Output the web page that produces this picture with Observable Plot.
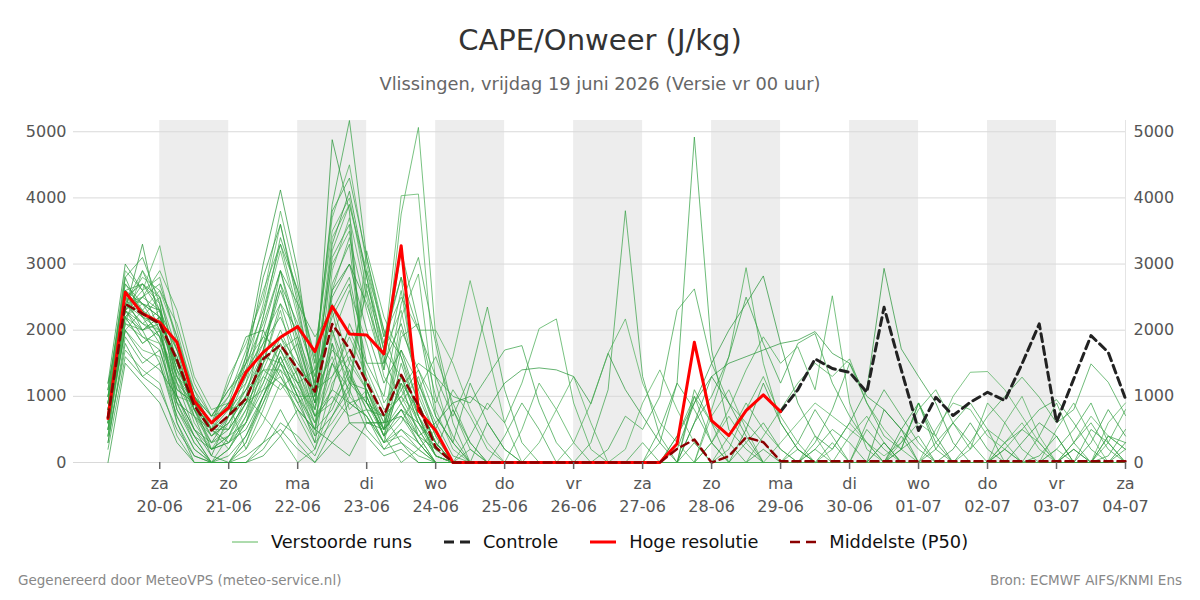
<!DOCTYPE html>
<html lang="nl">
<head>
<meta charset="utf-8">
<title>CAPE/Onweer (J/kg)</title>
<script src="https://cdn.jsdelivr.net/npm/d3@7"></script>
<script src="https://cdn.jsdelivr.net/npm/@observablehq/plot@0.6"></script>
<style>
  body { margin: 0; width: 1200px; height: 600px; position: relative; overflow: hidden;
         background: #fff; font-family: "DejaVu Sans", sans-serif; }
  #title { position: absolute; top: 23px; left: 0; width: 1200px; text-align: center;
           font-size: 29px; color: #333; }
  #subtitle { position: absolute; top: 73px; left: 0; width: 1200px; text-align: center;
              font-size: 17.8px; color: #666; }
  #chart { position: absolute; top: 105px; left: 0; }
  #legend { position: absolute; top: 531px; left: 0; width: 1200px; display: flex;
            justify-content: center; gap: 32px; font-size: 17.8px; color: #111; }
  #legend .item { display: flex; align-items: center; gap: 13px; }
  .footer { position: absolute; top: 572px; font-size: 13.5px; color: #888; }
  #foot-left { left: 18px; }
  #foot-right { right: 18px; }
</style>
</head>
<body>
<div id="title">CAPE/Onweer (J/kg)</div>
<div id="subtitle">Vlissingen, vrijdag 19 juni 2026 (Versie vr 00 uur)</div>
<div id="chart"></div>
<div id="legend"></div>
<div class="footer" id="foot-left">Gegenereerd door MeteoVPS (meteo-service.nl)</div>
<div class="footer" id="foot-right">Bron: ECMWF AIFS/KNMI Ens</div>
<script>
// Forecast steps: every 6 hours from 19-06 06 UTC up to 04-07 00 UTC (60 steps)
const firstStep = Date.UTC(2026, 5, 19, 6);
const stepHours = 6;

// Deterministic high-resolution run (first 10 days)
const hres = [
  665, 2573, 2250, 2120, 1817, 935, 600, 835, 1364, 1666,
  1893, 2054, 1677, 2361, 1944, 1929, 1642, 3278, 785, 483,
  0, 0, 0, 0, 0, 0, 0, 0, 0, 0,
  0, 0, 0, 282, 1817, 634, 408, 785, 1022, 770
];

// Control run (shown from day 10 onward)
const control = [
  null, null, null, null, null, null, null, null, null, null,
  null, null, null, null, null, null, null, null, null, null,
  null, null, null, null, null, null, null, null, null, null,
  null, null, null, null, null, null, null, null, null, 770,
  1100, 1566, 1420, 1364, 1062, 2346, 1400, 483, 986, 710,
  911, 1062, 937, 1491, 2095, 609, 1264, 1918, 1666, 962
];

// Ensemble median (P50)
const median = [
  680, 2397, 2250, 2100, 1550, 860, 483, 710, 962, 1566,
  1778, 1415, 1072, 2095, 1717, 1213, 710, 1324, 861, 231,
  0, 0, 0, 0, 0, 0, 0, 0, 0, 0,
  0, 0, 0, 207, 347, 0, 95, 382, 307, 20,
  20, 20, 20, 20, 20, 20, 20, 20, 20, 20,
  20, 20, 20, 20, 20, 20, 20, 20, 20, 20
];

// Perturbed ensemble members
const runs = [
  [900,2400,2900,2300,1100,900,500,700,1300,2200, 3400,2600,1500,3900,5170,3100,1900,2800,900,300,
   0,0,600,200,0,0,0,0,0,0, 0,0,0,0,300,0,0,0,0,0, 0,200,500,300,0,0,0,0,200,600, 300,0,0,0,100,400,0,0,0,200],
  [700,2600,2200,2500,1500,800,200,400,900,1600, 2900,1800,900,2600,3400,2300,1400,3757,5065,1900,
   800,200,0,0,0,0,0,0,0,0, 0,0,0,0,0,0,0,0,0,0, 200,0,0,400,700,300,0,0,0,0, 0,0,200,500,300,0,0,0,0,0],
  [500,2300,3300,2100,900,700,100,700,1600,3000, 4120,2900,1100,4880,3800,900,500,1200,400,0,
   0,0,0,0,0,0,0,0,0,0, 0,0,0,0,0,0,0,0,200,0, 0,0,0,0,0,0,200,900,400,0, 0,0,0,0,0,0,0,300,800,400],
  [1000,2900,2600,3278,2000,1000,600,1000,1500,1900, 2400,2000,1700,3500,4000,2600,1700,4033,4058,1200,
   300,0,0,0,0,0,0,0,0,0, 0,0,0,0,0,300,700,300,0,0, 0,0,0,0,0,300,0,0,0,0, 0,0,0,0,0,0,0,0,0,0],
  [600,2200,1800,2000,800,400,0,200,600,1200, 1800,1200,600,1100,900,700,300,500,200,0,
   0,0,0,0,0,0,0,0,300,1100, 3806,1300,400,0,0,0,0,0,0,0, 0,0,0,0,0,0,0,0,0,0, 0,0,0,0,400,900,300,0,0,0],
  [800,2500,2300,1900,1200,900,500,900,1200,1800, 2700,2100,1300,2200,2700,1000,400,1500,700,200,
   0,0,0,0,0,0,0,0,0,0, 0,0,300,1200,4920,1700,500,200,0,0, 0,0,0,0,0,0,0,0,0,0, 0,0,0,0,0,0,0,500,300,0],
  [400,2100,2000,2200,1400,600,200,300,700,1400, 1400,1100,800,1800,1200,2900,2000,1100,600,100,
   0,200,0,0,0,0,0,0,0,0, 0,0,0,0,0,800,1600,2945,1500,600, 200,0,0,0,0,0,0,0,0,0, 0,0,0,0,0,0,0,0,0,0],
  [1100,2700,2400,2300,1700,800,400,600,1000,2000, 2900,2000,1000,2600,3000,2400,1600,900,500,100,
   0,0,0,0,0,0,0,0,0,0, 0,0,0,200,900,1500,2000,2400,2820,1800, 900,400,200,600,1100,2935,1717,1300,900,300, 0,0,0,0,0,0,0,0,0,0],
  [700,2400,2100,2000,1000,900,600,800,1400,2400, 3600,2500,1400,3000,3500,1200,600,2000,1400,900,
   1600,2750,1700,600,0,0,0,0,0,0, 0,0,0,0,0,700,1100,500,0,0, 0,0,0,0,0,0,0,0,0,0, 0,0,600,1000,400,0,0,0,0,0],
  [900,2300,2500,2700,1900,1000,500,300,800,1500, 2400,1600,900,1500,1100,2700,1800,2800,2000,1300,
   700,1300,2350,1100,300,0,0,0,0,0, 0,0,0,0,0,0,0,0,0,0, 0,0,0,0,600,1100,700,300,0,0, 0,0,0,0,0,0,0,0,400,200],
  [300,1900,1500,1700,800,300,0,100,400,900, 1600,1000,500,800,1400,600,600,1100,1500,1300,
   1000,900,1300,1700,1767,900,300,0,0,0, 0,0,0,0,0,0,0,0,0,0, 0,0,0,0,0,0,0,0,0,0, 0,0,0,0,0,200,500,900,300,0],
  [600,2000,2300,1900,1300,1000,700,1000,1700,2600, 3300,2300,1200,3200,3900,2800,1700,1300,600,200,
   0,400,900,600,1200,2024,2170,900,200,0, 0,0,0,0,0,0,400,900,500,200, 0,200,0,0,0,0,0,0,0,0, 0,0,0,0,0,0,0,0,0,0],
  [800,2300,2000,2100,1600,900,600,1200,1900,2000, 1500,1200,1400,2000,1300,900,500,800,400,600,
   900,1000,800,1200,1400,1430,1400,1300,886,1650, 1100,700,300,0,0,0,0,0,0,0, 0,0,0,0,0,800,500,0,0,0, 0,0,0,0,0,0,200,0,0,0],
  [500,2200,2400,2200,1400,900,200,600,1100,1700, 1300,900,1100,1600,800,1100,600,2200,2850,800,
   200,0,0,0,0,0,0,300,900,1650, 2170,1200,600,300,0,0,0,0,0,0, 0,0,0,0,0,0,0,0,0,0, 0,0,0,0,0,0,0,0,600,900],
  [700,2500,2700,2400,1000,400,0,0,300,1000, 1700,1100,500,2700,3300,1000,400,700,300,0,
   0,0,0,0,0,0,0,0,0,200, 700,500,1000,2300,2624,1500,900,600,300,0, 0,0,0,0,0,0,0,0,300,600, 900,500,0,0,0,0,0,0,0,0],
  [900,2800,2200,1800,1100,900,400,700,1000,1500, 1900,1500,1100,1300,1700,1200,500,1900,2100,700,
   300,0,0,0,0,0,0,0,0,0, 0,0,0,0,600,1000,1600,2500,1800,1200, 1800,1950,1200,700,300,0,0,0,0,0, 0,0,0,0,0,0,0,0,0,0],
  [600,2400,2800,2600,2100,1200,700,800,900,1300, 1100,1400,700,900,1500,1100,500,900,1300,500,
   0,0,0,0,0,0,0,0,0,0, 0,0,0,0,0,300,800,1400,1900,1500, 1750,1100,2520,900,200,0,0,0,0,0, 0,0,0,0,0,0,0,0,0,0],
  [1200,2300,1900,1700,900,400,200,300,500,1000, 1500,900,400,700,1200,900,400,800,600,300,
   0,0,0,0,0,0,0,0,0,0, 0,0,0,400,900,1300,1500,1600,1700,1800, 1850,1979,1650,1500,1000,800,500,200,0,0, 0,0,0,0,0,0,0,0,0,0],
  [500,2000,1700,1600,700,200,0,0,200,600, 1200,800,300,600,1000,700,300,400,200,0,
   0,0,0,0,0,0,0,0,0,0, 0,0,0,0,0,0,0,0,0,300, 600,900,700,500,300,100,300,600,400,1000, 1364,1375,1100,700,300,0,0,0,0,0],
  [800,2600,2300,2100,1300,800,500,800,1100,1400, 1200,1000,1000,1700,1400,800,300,1300,700,100,
   0,0,0,0,0,0,0,0,0,0, 0,0,0,0,0,0,0,0,0,0, 0,0,0,0,0,0,200,400,0,0, 300,700,1000,1290,986,600,800,1491,1213,710],
  [1000,2200,2000,1500,600,100,0,200,700,1700, 2700,1700,800,3100,3600,900,700,300,0,0,
   0,0,0,0,0,0,0,0,0,0, 0,0,500,1200,800,300,0,300,600,200, 0,300,800,1500,900,400,200,900,200,0, 0,0,300,500,800,950,600,200,0,0],
  [400,2300,2600,2800,1800,900,600,900,1300,1900, 1700,1900,1200,2400,1500,2600,1400,2600,1000,400,
   0,0,0,0,0,0,0,0,0,0, 0,0,0,0,0,0,0,0,400,800, 1200,1500,1300,1566,900,500,200,0,0,0, 0,0,0,0,0,0,0,0,0,0],
  [0,1500,1200,900,300,0,0,0,100,300, 500,200,0,300,600,400,100,200,0,0,
   0,0,0,0,0,0,0,0,0,0, 0,0,0,0,0,0,0,0,0,0, 0,0,0,0,0,0,500,900,300,0, 0,0,0,0,0,0,0,0,0,0],
  [600,2100,2900,2500,1500,900,500,1300,1800,2500, 3800,2700,1500,3700,4500,3000,1900,2500,2000,2000,
   1500,800,300,0,0,0,0,0,0,0, 0,0,0,0,0,0,0,0,0,0, 0,400,0,0,0,0,0,0,0,0, 0,0,300,600,200,0,0,0,0,0],
  [900,2500,2000,2200,1700,1000,700,1100,1500,2100, 2900,2400,1900,2300,2800,1500,1500,3200,2100,1000,
   400,0,0,0,0,0,0,0,0,0, 0,0,0,0,1100,600,300,0,0,0, 0,0,0,0,500,200,0,0,0,0, 0,0,0,0,0,0,0,0,400,300],
  [1100,2800,3100,2400,1200,500,200,400,600,1100, 1700,1200,700,1000,700,800,700,1000,1400,700,
   300,1200,600,200,0,0,0,0,0,0, 0,0,0,0,0,0,0,0,0,0, 0,0,0,0,0,0,400,0,0,0, 0,0,0,0,0,0,0,0,0,0],
  [700,2400,2500,2900,2300,1300,800,900,200,800, 1500,1000,600,2000,1000,3200,2200,1600,900,300,
   0,0,0,0,0,0,0,0,0,0, 0,0,0,0,0,0,200,800,1300,700, 300,0,0,0,0,0,0,0,0,0, 0,0,0,0,0,0,0,0,0,0],
  [300,1800,1300,1100,500,100,0,0,400,1000, 1600,1000,300,1800,600,600,500,800,300,0,
   0,0,0,0,0,0,0,0,0,0, 0,0,0,0,0,0,0,0,0,0, 0,0,0,0,0,300,0,0,0,0, 0,0,0,0,0,0,200,0,0,300],
  [800,2200,1800,2000,1500,800,600,500,1200,2200, 3200,2200,1300,3400,3900,2900,1700,2300,1100,400,
   0,0,0,0,0,0,0,0,0,0, 0,0,0,0,0,0,0,0,0,0, 0,0,0,0,0,0,0,0,500,900, 800,400,200,0,0,0,300,700,400,200],
  [1000,2600,2700,2300,1300,900,500,700,1100,1600, 1500,1800,1000,2300,1200,1100,500,1700,1200,600,
   100,0,0,0,0,0,0,0,0,0, 0,0,0,0,1000,300,0,0,0,0, 0,0,0,0,0,0,0,0,0,0, 0,0,0,0,0,0,0,0,100,500],
  [500,2300,2100,1900,600,0,0,0,0,300, 800,300,0,500,900,700,200,500,300,0,
   0,0,0,0,0,0,0,0,0,0, 0,0,0,0,0,0,0,0,0,0, 0,0,300,0,0,0,0,0,0,0, 0,0,200,0,0,0,0,0,0,0],
  [800,2500,2400,2000,900,300,0,400,1000,700, 400,0,200,1200,1600,1100,400,0,200,500,
   1100,700,200,0,0,0,0,0,0,0, 0,0,0,400,1000,600,0,0,0,0, 0,0,0,0,0,0,0,0,0,0, 0,0,0,0,0,0,0,0,0,0],
  [600,2000,1600,1400,1000,500,100,0,0,100, 400,800,500,300,100,600,600,700,400,200,
   800,300,0,0,0,0,0,0,0,0, 0,0,0,0,0,0,0,0,0,0, 0,0,0,0,0,0,0,0,0,200, 600,200,0,0,0,0,0,0,0,0],
  [900,2700,2300,2600,1900,1100,500,200,600,1500, 2300,1300,400,2900,3700,2500,1300,900,400,0,
   0,0,0,0,0,0,0,0,0,0, 0,0,0,0,0,0,0,0,0,0, 0,0,200,600,300,0,0,0,0,0, 0,0,0,0,0,200,0,0,0,0],
  [700,2400,2200,2100,1600,700,500,500,900,1100, 1300,800,500,1500,900,1000,400,1200,800,300,
   0,0,0,400,900,500,0,0,0,0, 0,300,0,0,0,0,0,0,0,0, 0,0,0,0,0,0,0,0,0,0, 0,0,0,0,0,0,0,0,0,0],
  [1000,2200,2500,2300,1400,1000,600,900,1600,2300, 3300,2600,1600,3800,4300,3100,2000,1600,700,100,
   0,0,0,0,0,0,0,0,0,0, 0,0,0,0,0,0,0,0,0,0, 0,0,0,0,0,0,0,0,0,0, 0,0,0,0,0,0,0,0,0,0],
  [400,1700,1400,1200,400,0,0,0,300,900, 1400,700,200,900,1300,800,300,600,1100,1600,
   900,300,0,0,500,1200,800,300,0,0, 0,0,0,0,0,0,0,0,0,0, 0,0,0,0,0,0,0,0,0,0, 200,500,300,0,0,0,0,0,0,0],
  [1200,3000,2600,2000,1000,500,300,700,1500,2800, 3600,2400,1100,3300,4100,2800,1500,2100,1200,500,
   0,0,0,0,0,0,0,0,0,0, 0,0,0,0,0,0,0,500,1200,600, 200,0,0,0,0,0,0,0,0,0, 0,0,0,300,600,400,0,0,0,0],
  [600,2100,1900,1800,1200,700,300,400,800,1200, 1900,1300,700,1500,2000,1400,800,1000,500,100,
   0,0,0,0,0,300,800,1300,600,0, 200,900,1400,800,300,0,0,0,0,0, 0,0,0,0,0,0,0,0,0,0, 0,0,0,0,0,0,0,0,0,0],
  [800,2300,2700,2500,1700,1100,700,1100,1400,1800, 2200,1600,700,1100,2100,1500,1000,2400,3100,1800,
   600,0,0,0,0,0,0,0,0,0, 0,0,0,0,0,0,0,0,0,0, 300,800,400,0,0,0,0,0,0,0, 0,0,0,0,0,0,300,600,200,0],
  [200,1600,1300,1500,700,200,0,0,0,200, 600,400,100,700,1100,500,200,300,100,0,
   0,0,0,0,0,0,0,0,0,0, 0,0,0,0,0,0,0,0,0,0, 0,0,0,0,0,0,0,0,0,0, 0,0,0,0,0,0,0,0,0,0],
  [900,2400,2100,2300,1300,700,400,600,1000,1400, 2000,1400,800,1900,2600,1800,900,1300,600,200,
   0,0,0,0,0,0,0,0,0,0, 0,0,0,0,0,0,0,0,0,0, 0,0,0,0,0,0,300,800,1100,600, 200,900,600,200,0,0,0,0,300,800],
  [700,2600,2400,2200,1500,800,300,500,900,1700, 2600,1900,900,2500,3000,2000,1200,1700,900,300,
   0,0,0,0,0,0,0,0,0,0, 0,0,0,0,600,1300,900,400,0,0, 0,0,0,0,0,0,0,0,0,0, 0,0,0,0,0,0,0,0,0,0],
  [1100,2500,2200,2000,1500,1000,500,300,600,1300, 1800,1300,600,1300,1900,1300,700,1000,700,300,
   0,0,0,0,0,0,0,0,0,0, 0,0,0,0,0,0,0,0,0,0, 0,0,0,0,0,0,0,0,0,0, 0,0,0,0,0,500,900,400,0,0]
];

// Shades used for the ensemble lines
const runGreens = ["#2e9e3e", "#3fa84b", "#249335", "#4cae55", "#35a043"];

// Axis ticks
const yTicks = [0, 1000, 2000, 3000, 4000, 5000];
const weekdays = ["zo", "ma", "di", "wo", "do", "vr", "za"];
const firstTickDay = Date.UTC(2026, 5, 20);
const tickDayCount = 15;
// Days shaded in the background (every other day)
const shadedDayOffsets = [0, 2, 4, 6, 8, 10, 12];

// Legend entries
const legendItems = [
  {label: "Verstoorde runs", color: "#5cb85c", width: 1, dash: null},
  {label: "Controle", color: "#222", width: 3, dash: "10,6"},
  {label: "Hoge resolutie", color: "#ff0000", width: 3, dash: null},
  {label: "Middelste (P50)", color: "#8b0000", width: 2.5, dash: "10,6"}
];

const dayMs = 24 * 3600e3;
const timeAt = i => new Date(firstStep + i * stepHours * 3600e3);
const toRows = arr => arr.map((v, i) => ({time: timeAt(i), value: v})).filter(d => d.value != null);

const runRows = runs.flatMap((r, k) => r.map((v, i) => ({run: k, time: timeAt(i), value: v})));
const yMax = d3.max([...runs.flat(), ...hres, ...control.filter(v => v != null)]);

const xStart = new Date(firstStep - 12 * 3600e3);
const dayTicks = d3.range(tickDayCount).map(k => new Date(firstTickDay + k * dayMs));
const xEnd = dayTicks[dayTicks.length - 1];
const shadedDays = shadedDayOffsets.map(k => dayTicks[k]);
const fmtDate = d3.utcFormat("%d-%m");

const chart = Plot.plot({
  width: 1200,
  height: 410,
  marginTop: 15,
  marginBottom: 53,
  marginLeft: 73,
  marginRight: 75,
  style: {fontFamily: "DejaVu Sans, sans-serif", fontSize: "16px", color: "#555", background: "transparent"},
  x: {type: "utc", domain: [xStart, xEnd]},
  y: {domain: [0, yMax]},
  color: {type: "identity"},
  marks: [
    Plot.rect(shadedDays, {x1: d => d, x2: d => new Date(+d + dayMs), fill: "#ededed"}),
    Plot.gridY({ticks: yTicks, stroke: "#d9d9d9", strokeOpacity: 1, strokeWidth: 1}),
    Plot.ruleX([xEnd], {stroke: "#e4e4e4", strokeWidth: 1}),
    Plot.line(runRows, {
      x: "time", y: "value", z: "run",
      stroke: d => runGreens[d.run % runGreens.length],
      strokeWidth: 1, strokeOpacity: 0.7
    }),
    Plot.line(toRows(control), {x: "time", y: "value", stroke: "#222", strokeWidth: 3, strokeDasharray: "8,5"}),
    Plot.line(toRows(hres), {x: "time", y: "value", stroke: "#ff0000", strokeWidth: 3}),
    Plot.line(toRows(median), {x: "time", y: "value", stroke: "#8b0000", strokeWidth: 2.5, strokeDasharray: "8,5"}),
    Plot.axisY({anchor: "left", ticks: yTicks, tickSize: 0, tickPadding: 7, tickFormat: d => String(d),
                label: null, fontSize: 16, fill: "#555"}),
    Plot.axisY({anchor: "right", ticks: yTicks, tickSize: 0, tickPadding: 8, tickFormat: d => String(d),
                label: null, fontSize: 16, fill: "#555"}),
    Plot.axisX({ticks: dayTicks, tickSize: 7, tickPadding: 4, lineHeight: 1.4,
                tickFormat: d => weekdays[d.getUTCDay()] + "\n" + fmtDate(d),
                label: null, fontSize: 16, fill: "#555", stroke: "#666", strokeWidth: 1.5})
  ]
});
document.getElementById("chart").append(chart);

// Legend below the chart
const legend = document.getElementById("legend");
for (const item of legendItems) {
  const span = document.createElement("span");
  span.className = "item";
  const dash = item.dash ? ` stroke-dasharray="${item.dash}"` : "";
  span.innerHTML = `<svg width="26" height="12"><line x1="0" y1="6" x2="26" y2="6" stroke="${item.color}" stroke-width="${item.width}"${dash}/></svg><span>${item.label}</span>`;
  legend.append(span);
}
</script>
</body>
</html>
